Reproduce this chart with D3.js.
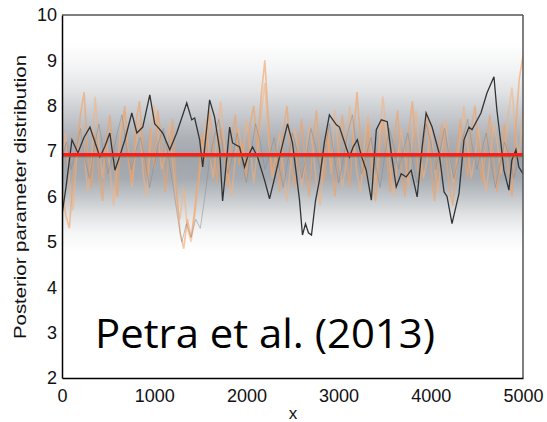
<!DOCTYPE html>
<html><head><meta charset="utf-8">
<script src="https://cdn.jsdelivr.net/npm/d3@7"></script>
<style>html,body{margin:0;padding:0;background:#fff;}svg{display:block;}</style>
</head><body>
<svg id="chart" width="547" height="422"></svg>
<script>
// ---- data ----
const xTicks = [0, 1000, 2000, 3000, 4000, 5000];
const yTicks = [2, 3, 4, 5, 6, 7, 8, 9, 10];
const meanValue = 6.92;

const blackX = [0,43,108,173,238,303,357,411,465,519,574,628,682,757,812,876,952,1006,1039,1093,1169,1244,1353,1407,1439,1493,1526,1601,1655,1710,1742,1785,1818,1850,1926,1980,2013,2067,2121,2197,2251,2305,2359,2446,2500,2576,2608,2641,2673,2706,2749,2792,2846,2900,2976,3009,3063,3117,3160,3203,3246,3300,3355,3409,3463,3528,3571,3625,3679,3733,3787,3852,3906,3949,4014,4090,4144,4176,4230,4306,4360,4414,4447,4544,4609,4685,4717,4760,4793,4847,4879,4923,4955,5000];
const blackY = [5.6,6.2,7.25,6.96,7.3,7.53,7.2,6.87,7.1,7.4,6.58,6.9,7.25,7.84,7.4,7.53,8.24,7.6,7.53,7.4,7.03,7.4,8.06,7.69,7.73,7.25,6.65,8.13,7.75,7.03,5.9,6.8,7.53,7.18,7.09,6.65,6.87,7.09,6.87,6.36,5.95,6.4,6.87,7.6,7.18,5.92,5.15,5.4,5.2,5.15,5.9,6.36,7.2,7.8,7.58,7.53,7.2,6.87,7.1,7.25,6.9,6.58,5.92,7.47,7.69,7.65,6.96,6.21,6.5,6.43,6.58,5.99,7.09,7.84,7.53,6.96,6.1,6.0,5.4,6.07,7.25,7.53,7.47,7.84,8.28,8.64,7.9,7.18,6.58,6.14,6.8,7.03,6.65,6.5];

const orangeA = [6.2,5.6,5.3,6.4,7.1,7.8,8.3,6.9,6.2,7.4,6.5,5.9,7.2,7.8,6.7,6.0,7.3,8.0,6.8,6.3,7.6,8.1,7.0,6.4,7.5,6.6,7.9,7.2,6.1,6.9,7.7,6.2,5.2,4.85,5.5,5.1,5.7,6.5,7.4,6.8,7.9,7.1,6.3,7.5,6.9,6.2,7.3,7.8,6.7,7.2,6.4,7.6,8.0,7.0,8.2,9.0,7.6,6.5,7.0,6.1,7.4,8.0,6.9,6.2,7.1,7.7,6.6,6.0,7.2,7.9,6.8,6.3,7.5,6.7,6.0,7.0,7.8,6.9,6.2,7.3,8.3,7.1,6.4,7.6,6.5,5.9,6.8,7.7,6.9,6.1,7.2,7.9,6.6,6.0,7.4,8.1,7.0,6.3,7.1,7.8,6.7,5.9,6.8,7.6,7.0,6.2,5.8,6.9,7.7,7.0,6.4,7.5,8.0,6.9,6.3,7.2,7.8,6.8,6.1,7.0,7.6,6.6,6.0,7.5,8.6,9.1];
const orangeB = [6.8,7.4,6.3,5.7,6.9,7.6,7.0,6.1,6.8,8.2,7.1,6.4,7.3,6.6,5.8,6.7,7.5,7.9,6.9,6.2,7.1,7.7,6.5,6.0,7.2,8.0,7.4,6.6,6.9,7.6,6.8,5.9,5.5,6.2,5.3,5.0,5.6,6.3,7.0,7.7,6.9,6.4,7.3,8.1,7.2,6.5,6.0,6.9,7.5,6.8,7.7,7.1,6.3,7.0,7.8,8.5,7.3,6.4,6.9,7.4,6.6,5.9,6.7,7.5,7.0,6.2,6.8,7.6,7.1,6.3,5.8,6.9,7.4,6.5,7.9,7.0,6.2,6.7,8.0,7.3,6.5,6.1,7.2,7.8,6.9,6.3,7.1,8.2,7.4,6.6,6.0,6.8,7.5,6.9,6.2,7.3,7.9,7.0,6.4,6.8,7.6,6.7,6.1,7.0,7.7,6.9,6.3,6.6,7.4,8.0,7.1,6.4,6.9,7.5,6.7,6.1,6.8,7.6,7.2,6.5,7.0,7.8,8.4,7.3,6.9,8.0];
const grayChain = [6.9,7.2,6.6,7.0,7.5,6.8,6.4,7.1,7.6,7.0,6.5,6.9,7.4,7.8,7.1,6.6,7.0,7.3,6.8,6.2,6.7,7.2,7.5,6.9,6.3,5.6,5.0,5.4,5.1,5.5,5.3,6.0,6.8,7.3,7.7,7.0,6.5,6.9,7.4,6.8,6.3,7.0,7.6,7.2,6.6,6.9,7.3,6.7,6.2,6.8,7.4,7.0,6.4,6.9,7.5,7.1,6.6,7.0,7.6,6.9,6.3,6.8,7.4,7.8,7.0,6.5,6.9,7.3,6.7,6.2,6.9,7.5,7.1,6.6,7.0,7.4,6.8,6.3,6.9,7.6,7.2,6.6,7.0,7.5,6.9,6.4,6.8,7.3,7.7,7.1,6.6,7.0,7.4,6.8,6.2,6.7,7.2,6.9,6.4,6.8,7.0];

// ---- layout ----
const svg = d3.select("#chart");
const L = 62, R = 523, T = 15, B = 378;
const x = d3.scaleLinear().domain([0, 5000]).range([L, R]);
const y = d3.scaleLinear().domain([2, 10]).range([B, T]);

const defs = svg.append("defs");
const grad = defs.append("linearGradient").attr("id", "band")
  .attr("gradientUnits", "userSpaceOnUse")
  .attr("x1", 0).attr("x2", 0).attr("y1", y(9.4)).attr("y2", y(4.8));
const stops = [[9.4,"#ffffff"],[8.8,"#f2f3f4"],[8.3,"#e0e2e4"],[7.8,"#c6c9cd"],[7.3,"#aeb2b7"],[6.8,"#a0a5ab"],[6.4,"#a6abb1"],[6.0,"#c2c6ca"],[5.6,"#e0e2e4"],[5.2,"#f5f6f7"],[4.8,"#ffffff"]];
stops.forEach(([v,c]) => grad.append("stop").attr("offset", (9.4 - v) / (9.4 - 4.8)).attr("stop-color", c));

defs.append("clipPath").attr("id","clip").append("rect")
  .attr("x", L).attr("y", T).attr("width", R - L).attr("height", B - T);

svg.append("rect").attr("x", L).attr("y", T).attr("width", R - L).attr("height", B - T)
  .attr("fill", "url(#band)");

const g = svg.append("g").attr("clip-path", "url(#clip)");
const lineIdx = arr => d3.line().x((d, i) => x(i * 5000 / (arr.length - 1))).y(d => y(d));

g.append("path").datum(orangeB).attr("d", lineIdx(orangeB))
  .attr("fill", "none").attr("stroke", "#f7b07a").attr("stroke-opacity", 0.55).attr("stroke-width", 1.6);
g.append("path").datum(orangeA).attr("d", lineIdx(orangeA))
  .attr("fill", "none").attr("stroke", "#f4a060").attr("stroke-opacity", 0.6).attr("stroke-width", 1.6);
g.append("path").datum(grayChain).attr("d", lineIdx(grayChain))
  .attr("fill", "none").attr("stroke", "#8a8a8a").attr("stroke-opacity", 0.5).attr("stroke-width", 1);

const blackLine = d3.line().x((d, i) => x(blackX[i])).y(d => y(d));
g.append("path").datum(blackY).attr("d", blackLine(blackY))
  .attr("fill", "none").attr("stroke", "#333").attr("stroke-width", 1.3);

g.append("line").attr("x1", x(0)).attr("x2", x(5000)).attr("y1", y(meanValue) + 1.5).attr("y2", y(meanValue) + 1.5)
  .attr("stroke", "#3aa06a").attr("stroke-opacity", 0.5).attr("stroke-width", 3);
g.append("line").attr("x1", x(0)).attr("x2", x(5000)).attr("y1", y(meanValue)).attr("y2", y(meanValue))
  .attr("stroke", "#ff1a1a").attr("stroke-width", 3.5);

// frame
svg.append("line").attr("x1", L).attr("x2", R).attr("y1", T).attr("y2", T).attr("stroke", "#555").attr("stroke-width", 1.5);
svg.append("line").attr("x1", R).attr("x2", R).attr("y1", T).attr("y2", B).attr("stroke", "#555").attr("stroke-width", 1.5);

const xAxis = d3.axisBottom(x).tickValues(xTicks).tickSize(0).tickPadding(11).tickFormat(d3.format("d"));
const yAxis = d3.axisLeft(y).tickValues(yTicks).tickSize(0).tickPadding(5).tickFormat(d3.format("d"));
const ax = svg.append("g").attr("transform", `translate(0,${B})`).call(xAxis);
const ay = svg.append("g").attr("transform", `translate(${L},0)`).call(yAxis);
[ax, ay].forEach(a => {
  a.select(".domain").attr("stroke", "#000").attr("stroke-width", 1.5);
  a.selectAll("text").attr("font-family", "Liberation Sans, Arial, sans-serif").attr("font-size", 18).attr("fill", "#111");
});

svg.append("text").attr("x", 293).attr("y", 419).attr("text-anchor", "middle")
  .attr("font-family", "Liberation Sans, Arial, sans-serif").attr("font-size", 17).attr("fill", "#111").text("x");
svg.append("text").attr("transform", "translate(26,197) rotate(-90)").attr("text-anchor", "middle")
  .attr("font-family", "Liberation Sans, Arial, sans-serif").attr("font-size", 16.5).attr("fill", "#111")
  .attr("textLength", 284).attr("lengthAdjust", "spacingAndGlyphs")
  .text("Posterior parameter distribution");

svg.append("text").attr("x", 95).attr("y", 348)
  .attr("font-family", "Open Sans, Noto Sans, sans-serif").attr("font-size", 41).attr("fill", "#000")
  .attr("textLength", 340).attr("lengthAdjust", "spacingAndGlyphs")
  .text("Petra et al. (2013)");
</script>
</body></html>
